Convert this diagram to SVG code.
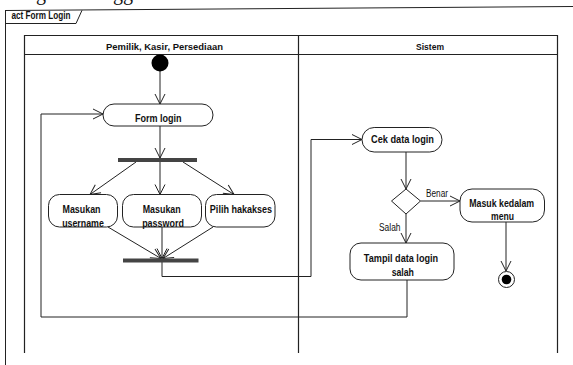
<svg xmlns="http://www.w3.org/2000/svg" width="573" height="365" viewBox="0 0 573 365">
  <style>
    .ln { fill: none; stroke: #222; stroke-width: 1; }
    .lane { fill: none; stroke: #222; stroke-width: 1.2; }
    .node { fill: #fff; stroke: #222; stroke-width: 1; }
    .bar { fill: #444; }
    .t { font-family: "Liberation Sans", Arial, sans-serif; font-weight: bold; font-size: 10px; fill: #111; text-anchor: middle; }
    .g { font-family: "Liberation Sans", Arial, sans-serif; font-size: 10px; fill: #111; }
    .hd { font-family: "Liberation Sans", Arial, sans-serif; font-weight: bold; font-size: 9.5px; fill: #111; text-anchor: middle; }
    .pg { font-family: "Liberation Serif", "Times New Roman", serif; font-size: 20px; fill: #111; }
  </style>
  <defs>
    <marker id="arr" markerUnits="userSpaceOnUse" markerWidth="12" markerHeight="12" viewBox="0 0 12 12" refX="11" refY="6" orient="auto">
      <path d="M1,1 L11,6 L1,11" fill="none" stroke="#222" stroke-width="1"/>
    </marker>
  </defs>
  <rect width="573" height="365" fill="#fff"/>

  <!-- page text descenders above the frame -->
  <text class="pg" x="36" y="0">g</text>
  <text class="pg" x="113" y="0">gg</text>

  <!-- activity frame -->
  <g id="frame">
    <line class="ln" x1="5" y1="10.5" x2="573" y2="6.5"/>
    <line class="ln" x1="5.5" y1="10" x2="5.5" y2="365"/>
    <path class="ln" d="M5.5,23.5 H76 L82,10.3"/>
    <text class="t" x="41" y="18.5" font-size="8" textLength="59" lengthAdjust="spacingAndGlyphs">act Form Login</text>
  </g>

  <!-- swimlanes -->
  <g id="lanes">
    <path class="lane" d="M24.5,353 V35.5 H557.5 V353"/>
    <line class="lane" x1="24.5" y1="54.5" x2="557.5" y2="54.5"/>
    <line class="lane" x1="298.5" y1="35.5" x2="298.5" y2="353"/>
    <text class="hd" x="164.5" y="49.5" textLength="117" lengthAdjust="spacingAndGlyphs">Pemilik, Kasir, Persediaan</text>
    <text class="hd" x="430" y="49.5" textLength="28" lengthAdjust="spacingAndGlyphs">Sistem</text>
  </g>

  <!-- connectors -->
  <g id="connectors">
    <line class="ln" x1="160" y1="71" x2="160" y2="104" marker-end="url(#arr)"/>
    <line class="ln" x1="160" y1="126" x2="160" y2="158" marker-end="url(#arr)"/>
    <line class="ln" x1="136" y1="162" x2="90" y2="194.5" marker-end="url(#arr)"/>
    <line class="ln" x1="160" y1="162" x2="160" y2="194.5" marker-end="url(#arr)"/>
    <line class="ln" x1="183" y1="162" x2="234" y2="194.5" marker-end="url(#arr)"/>
    <line class="ln" x1="108" y1="227" x2="161" y2="258.5" marker-end="url(#arr)"/>
    <line class="ln" x1="162" y1="227" x2="162" y2="258.5" marker-end="url(#arr)"/>
    <line class="ln" x1="213" y1="227" x2="163" y2="258.5" marker-end="url(#arr)"/>
    <path class="ln" d="M162,262 V276.5 H311 V139.5 H362" marker-end="url(#arr)"/>
    <line class="ln" x1="406" y1="152" x2="406" y2="189" marker-end="url(#arr)"/>
    <line class="ln" x1="420.5" y1="201" x2="460" y2="201" marker-end="url(#arr)"/>
    <line class="ln" x1="406" y1="214" x2="406" y2="243" marker-end="url(#arr)"/>
    <line class="ln" x1="506" y1="222" x2="506" y2="271" marker-end="url(#arr)"/>
    <path class="ln" d="M407,280 V317 H41 V114 H103" marker-end="url(#arr)"/>
    <text class="g" x="426" y="196.5" textLength="22" lengthAdjust="spacingAndGlyphs">Benar</text>
    <text class="g" x="379" y="231" textLength="21.5" lengthAdjust="spacingAndGlyphs">Salah</text>
  </g>

  <!-- nodes -->
  <g id="start">
    <circle cx="160" cy="63" r="8.5" fill="#000"/>
  </g>
  <g id="form-login">
    <rect class="node" x="103" y="104" width="110" height="22" rx="11"/>
    <text class="t" x="158.3" y="122" textLength="46.7" lengthAdjust="spacingAndGlyphs">Form login</text>
  </g>
  <g id="fork">
    <rect class="bar" x="118" y="158" width="79" height="4"/>
  </g>
  <g id="masukan-username">
    <rect class="node" x="48.5" y="194.5" width="69" height="32.5" rx="11"/>
    <text class="t" x="81.5" y="213" textLength="38" lengthAdjust="spacingAndGlyphs">Masukan</text>
    <text class="t" x="83" y="226.5" textLength="41.7" lengthAdjust="spacingAndGlyphs">username</text>
  </g>
  <g id="masukan-password">
    <rect class="node" x="122.5" y="194.5" width="79" height="32.5" rx="11"/>
    <text class="t" x="161.7" y="213" textLength="38" lengthAdjust="spacingAndGlyphs">Masukan</text>
    <text class="t" x="163" y="226.5" textLength="41.7" lengthAdjust="spacingAndGlyphs">password</text>
  </g>
  <g id="pilih-hakakses">
    <rect class="node" x="205.5" y="194.5" width="69.5" height="32.5" rx="11"/>
    <text class="t" x="241" y="213" textLength="62.3" lengthAdjust="spacingAndGlyphs">Pilih hakakses</text>
  </g>
  <g id="join">
    <rect class="bar" x="123" y="258.5" width="75.5" height="4"/>
  </g>
  <g id="cek-data-login">
    <rect class="node" x="362" y="127.5" width="80" height="24.5" rx="12.2"/>
    <text class="t" x="402.5" y="143" textLength="63" lengthAdjust="spacingAndGlyphs">Cek data login</text>
  </g>
  <g id="decision">
    <path class="node" d="M406,189 L420.5,201 L406,214 L391.5,201 Z"/>
  </g>
  <g id="masuk-menu">
    <rect class="node" x="460" y="189" width="84.5" height="33" rx="12"/>
    <text class="t" x="501.7" y="207" textLength="65" lengthAdjust="spacingAndGlyphs">Masuk kedalam</text>
    <text class="t" x="502.5" y="220" textLength="23" lengthAdjust="spacingAndGlyphs">menu</text>
  </g>
  <g id="tampil-salah">
    <rect class="node" x="350" y="243" width="104" height="37" rx="11"/>
    <text class="t" x="401" y="262" textLength="74.3" lengthAdjust="spacingAndGlyphs">Tampil data login</text>
    <text class="t" x="402.8" y="275.5" textLength="22.3" lengthAdjust="spacingAndGlyphs">salah</text>
  </g>
  <g id="end">
    <circle cx="506.5" cy="279.5" r="8" fill="#fff" stroke="#222" stroke-width="1"/>
    <circle cx="506.5" cy="279.5" r="4.8" fill="#000"/>
  </g>
</svg>
